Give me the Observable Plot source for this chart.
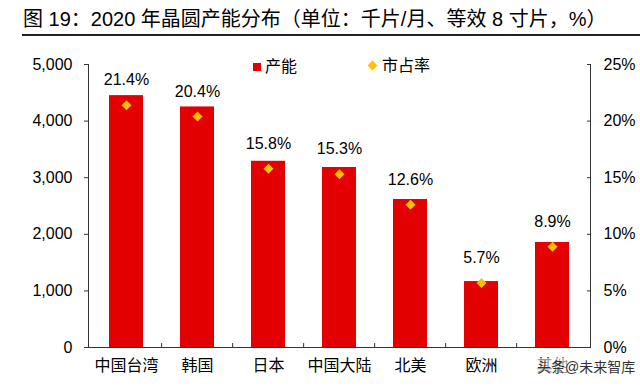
<!DOCTYPE html>
<html>
<head>
<meta charset="utf-8">
<script src="https://cdn.jsdelivr.net/npm/d3@7"></script>
<script src="https://cdn.jsdelivr.net/npm/@observablehq/plot@0.6"></script>
<style>
  body { margin:0; width:640px; height:392px; position:relative; overflow:hidden; background:#fff;
         font-family:"Liberation Sans","Noto Sans CJK SC",sans-serif; color:#000; }
  #title { position:absolute; left:23px; top:7px; font-size:20px; line-height:24px; white-space:nowrap; }
  #rule { position:absolute; left:22px; right:0; top:34px; height:2px; background:#222; }
  #chart { position:absolute; left:0; top:0; }
  .leg { position:absolute; font-size:16px; line-height:18px; white-space:nowrap; }
  #wm { position:absolute; left:537px; top:358px; font-size:14px; line-height:18px; color:#333;
        background:rgba(255,255,255,0.6); white-space:nowrap; }
</style>
</head>
<body>
<div id="chart"></div>
<div id="title">图 19：2020 年晶圆产能分布（单位：千片/月、等效 8 寸片，%）</div>
<div id="rule"></div>
<div class="leg" style="left:253px; top:58px;"><span style="display:inline-block;width:8px;height:8px;background:#E20000;margin-right:4px;vertical-align:1px"></span>产能</div>
<div class="leg" style="left:368px; top:57px;"><span style="display:inline-block;width:7px;height:7px;background:#FFC000;transform:rotate(45deg);margin-right:6px;margin-left:1px;vertical-align:2px"></span>市占率</div>
<div id="wm">头条@未来智库</div>
<script>
const categories = ["中国台湾", "韩国", "日本", "中国大陆", "北美", "欧洲", "其他"];
const capacity = [4450, 4250, 3290, 3180, 2615, 1165, 1855];
const share = [21.4, 20.4, 15.8, 15.3, 12.6, 5.7, 8.9];
const leftTicks = [0, 1000, 2000, 3000, 4000, 5000];
const rightTicks = [0, 5, 10, 15, 20, 25];

const data = categories.map((c, i) => ({cat: c, cap: capacity[i], share: share[i]}));
const ratio = 5000 / 25;
const W = 640, H = 392, ML = 88, MR = 50, MT = 64, MB = 45;
const step = (W - ML - MR) / categories.length;
const FONT = "'Liberation Sans','Noto Sans CJK SC',sans-serif";

const plot = Plot.plot({
  width: W, height: H, marginTop: MT, marginBottom: MB, marginLeft: ML, marginRight: MR,
  style: {fontFamily: FONT, fontSize: "16px", color: "#000", background: "transparent", overflow: "visible"},
  x: {domain: categories, paddingInner: 0.52, paddingOuter: 0.26, axis: null},
  y: {domain: [0, 5000], axis: null},
  marks: [
    Plot.barY(data, {x: "cat", y: "cap", fill: "#E20000"}),
    Plot.ruleX(categories.slice(1), {x: d => d, y1: 0, y2: 70, dx: -step / 2, stroke: "#333"}),
    Plot.frame({anchor: "left", stroke: "#333"}),
    Plot.frame({anchor: "right", stroke: "#333"}),
    Plot.frame({anchor: "bottom", stroke: "#333"}),
    Plot.axisY({anchor: "left", ticks: leftTicks, tickSize: 4, tickPadding: 12, tickFormat: d3.format(","), label: null, stroke: "#333", fontSize: 16}),
    Plot.axisY({anchor: "right", ticks: rightTicks.map(v => v * ratio), tickSize: 0, tickPadding: 13, tickFormat: d => d / ratio + "%", label: null, fontSize: 16}),
    Plot.axisY({anchor: "right", ticks: rightTicks.map(v => v * ratio), tickSize: 4, dx: -4, tickFormat: () => "", label: null, stroke: "#333"}),
    Plot.axisX({anchor: "bottom", tickSize: 0, tickPadding: 12, label: null, fontSize: 16}),
    Plot.dot(data, {x: "cat", y: d => d.share * ratio, symbol: "diamond2", r: 4.5, fill: "#FFC000", stroke: "none"}),
    Plot.text(data, {x: "cat", y: d => d.share * ratio, text: d => d.share.toFixed(1) + "%", dy: -25, fontSize: 16, fill: "#000"})
  ]
});
document.getElementById("chart").appendChild(plot);
</script>
</body>
</html>
